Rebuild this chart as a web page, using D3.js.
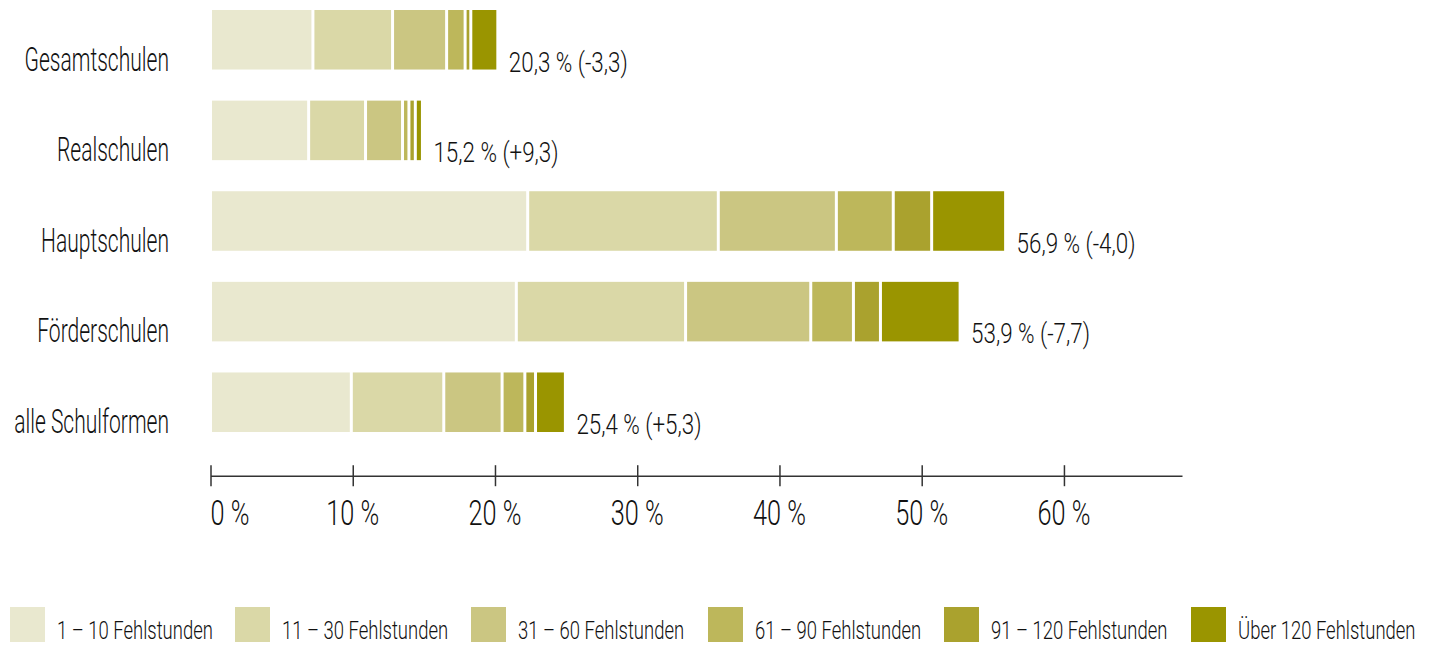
<!DOCTYPE html>
<html>
<head>
<meta charset="utf-8">
<script src="https://cdn.jsdelivr.net/npm/d3@7"></script>
<style>
  body { margin: 0; background: #fff; }
  svg text { font-family: Roboto, "DejaVu Sans Condensed", sans-serif; font-weight: 300; fill: #111; }
</style>
</head>
<body>
<div id="chart"></div>
<script>
const categories = ["Gesamtschulen", "Realschulen", "Hauptschulen", "Förderschulen", "alle Schulformen"];
const seriesNames = ["1 – 10 Fehlstunden", "11 – 30 Fehlstunden", "31 – 60 Fehlstunden",
  "61 – 90 Fehlstunden", "91 – 120 Fehlstunden", "Über 120 Fehlstunden"];
// shares (%) per band of missed hours, one row per school type
const h1to10 = [7.2, 6.9, 22.3, 21.5, 9.9];
const h11to30 = [5.6, 4.0, 13.4, 11.9, 6.5];
const h31to60 = [3.8, 2.6, 8.3, 8.8, 4.1];
const h61to90 = [1.3, 0.45, 4.0, 3.0, 1.6];
const h91to120 = [0.4, 0.45, 2.7, 1.9, 0.75];
const hOver120 = [1.9, 0.5, 5.2, 5.6, 2.1];
const totals = [20.3, 15.2, 56.9, 53.9, 25.4];
const changes = [-3.3, 9.3, -4.0, -7.7, 5.3];
const xTicks = [0, 10, 20, 30, 40, 50, 60];
const colors = ["#e9e8cf", "#dad8a7", "#cbc682", "#bdb75b", "#aaa22e", "#9a9500"];

const config = {
  width: 1429,
  height: 646,
  gap: 3,
  legendX: [10, 235, 471, 708, 944, 1191],
};

const series = [h1to10, h11to30, h31to60, h61to90, h91to120, hOver120];
const rows = categories.map((c, i) => {
  const row = { cat: c };
  seriesNames.forEach((s, j) => (row[s] = series[j][i]));
  return row;
});
const stacked = d3.stack().keys(seriesNames)(rows);

const svg = d3
  .select("#chart")
  .append("svg")
  .attr("width", config.width)
  .attr("height", config.height);

// horizontal squeeze so the installed font looks like the condensed original
function squeeze(text, size, width) {
  const t = svg.append("text").style("font-size", size + "px").text(text);
  const w = t.node().getComputedTextLength();
  t.remove();
  return width / w;
}
const sxCat = squeeze("Hauptschulen", 34, 128);
const sxTotal = squeeze("20,3 % (-3,3)", 28, 119);
const sxTick = squeeze("10 %", 35, 53);
const sxLegend = squeeze("1 – 10 Fehlstunden", 25.5, 156);

// Scales
const x = d3.scaleLinear().domain([0, 68.3]).range([210.5, 1182]);
const y = d3
  .scaleBand()
  .domain(categories)
  .range([10, 432])
  .paddingInner(0.343)
  .paddingOuter(0);

const fmt = (v) => d3.format(".1f")(Math.abs(v)).replace(".", ",");

// Bars
svg
  .selectAll(".layer")
  .data(stacked)
  .enter()
  .append("g")
  .attr("class", "layer")
  .attr("fill", (d, i) => colors[i])
  .selectAll("rect")
  .data((d) => d)
  .enter()
  .append("rect")
  .attr("x", (d) => x(d[0]) + config.gap / 2)
  .attr("y", (d) => y(d.data.cat))
  .attr("width", (d) => Math.max(0.5, x(d[1]) - x(d[0]) - config.gap))
  .attr("height", y.bandwidth());

// Category labels
svg
  .selectAll(".cat")
  .data(categories)
  .enter()
  .append("text")
  .attr("class", "cat")
  .attr("transform", (d) => `translate(169,${y(d) + y.bandwidth() + 1}) scale(${sxCat},1)`)
  .attr("text-anchor", "end")
  .style("font-size", "34px")
  .text((d) => d);

// Total labels
svg
  .selectAll(".total")
  .data(categories)
  .enter()
  .append("text")
  .attr("class", "total")
  .attr("transform", (d, i) => {
    const end = d3.sum(series, (s) => s[i]);
    return `translate(${x(end) + 11},${y(d) + y.bandwidth() + 2}) scale(${sxTotal},1)`;
  })
  .style("font-size", "28px")
  .text((d, i) => `${fmt(totals[i])} % (${changes[i] < 0 ? "-" : "+"}${fmt(changes[i])})`);

// X-axis
const axisY = 475.7;
const xAxis = svg
  .append("g")
  .attr("transform", `translate(0,${axisY})`)
  .call(d3.axisBottom(x).tickValues(xTicks).tickSizeOuter(0).tickSizeInner(0).tickFormat(""));

xAxis.select(".domain").attr("stroke", "#333").attr("stroke-width", 1.5);
xAxis
  .selectAll(".tick line")
  .attr("y1", -10.5)
  .attr("y2", 10.5)
  .attr("stroke", "#333")
  .attr("stroke-width", 1.5);

svg
  .selectAll(".tick-label")
  .data(xTicks)
  .enter()
  .append("text")
  .attr("class", "tick-label")
  .attr("transform", (d) => `translate(${x(d)},525) scale(${sxTick},1)`)
  .attr("text-anchor", (d) => (d === 0 ? "start" : "middle"))
  .style("font-size", "35px")
  .text((d) => `${d} %`);

// Legend
const legend = svg
  .selectAll(".legend")
  .data(seriesNames)
  .enter()
  .append("g")
  .attr("class", "legend")
  .attr("transform", (d, i) => `translate(${config.legendX[i]},607)`);

legend
  .append("rect")
  .attr("width", 35)
  .attr("height", 35)
  .attr("fill", (d, i) => colors[i]);

legend
  .append("text")
  .attr("transform", `translate(47,32) scale(${sxLegend},1)`)
  .style("font-size", "25.5px")
  .text((d) => d);
</script>
</body>
</html>
